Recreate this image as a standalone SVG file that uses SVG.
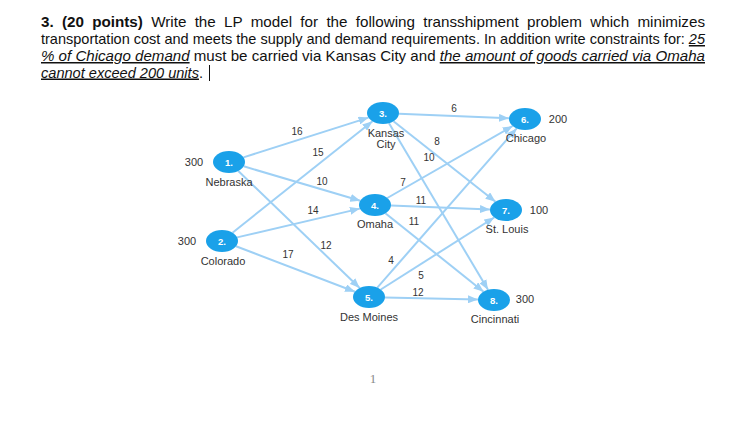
<svg xmlns="http://www.w3.org/2000/svg" width="745" height="438" viewBox="0 0 745 438">
<style>
.t{font-family:"Liberation Sans",Arial,sans-serif;font-size:15px;fill:#111}
.u{text-decoration:underline;font-style:italic}
.e{stroke:#9ed0f5;stroke-width:2;fill:none;marker-end:url(#ah)}
.n{fill:#1aa1e9}
.nl{font-family:"Liberation Sans",Arial,sans-serif;font-size:9.5px;font-weight:bold;fill:#fff;text-anchor:middle}
.lb{font-family:"Liberation Sans",Arial,sans-serif;font-size:11px;fill:#333;text-anchor:middle}
.w{font-family:"Liberation Sans",Arial,sans-serif;font-size:10px;fill:#333;text-anchor:middle}
</style>
<defs>
<marker id="ah" markerUnits="userSpaceOnUse" markerWidth="10" markerHeight="8" refX="10" refY="4" orient="auto">
<path d="M0,0 L10,4 L0,8 z" fill="#9ed0f5"/>
</marker>
</defs>
<rect width="745" height="438" fill="#fff"/>
<g id="title">
<text class="t" x="41" y="27" word-spacing="4" textLength="664" lengthAdjust="spacingAndGlyphs"><tspan font-weight="bold">3. (20 points)</tspan> Write the LP model for the following transshipment problem which minimizes</text>
<text class="t" x="41" y="44" textLength="664" lengthAdjust="spacingAndGlyphs">transportation cost and meets the supply and demand requirements. In addition write constraints for: <tspan class="u">25</tspan></text>
<text class="t" x="41" y="61" textLength="664" lengthAdjust="spacingAndGlyphs"><tspan class="u">% of Chicago demand</tspan> must be carried via Kansas City and <tspan class="u">the amount of goods carried via Omaha</tspan></text>
<text class="t" x="41" y="77.5" textLength="162" lengthAdjust="spacingAndGlyphs"><tspan class="u">cannot exceed 200 units</tspan>.</text>
<line x1="209.5" y1="65" x2="209.5" y2="81" stroke="#111" stroke-width="1"/>
</g>
<g id="connectors">
<line class="e" x1="243.5" y1="157.4" x2="368.5" y2="117.6"/>
<line class="e" x1="243.7" y1="166.3" x2="360.3" y2="200.7"/>
<line class="e" x1="238.3" y1="171" x2="359.7" y2="288"/>
<line class="e" x1="232.5" y1="232.7" x2="372.5" y2="121.3"/>
<line class="e" x1="237.1" y1="237.4" x2="359.9" y2="208.6"/>
<line class="e" x1="236" y1="246.3" x2="355" y2="291.7"/>
<line class="e" x1="399" y1="113.7" x2="509" y2="118.3"/>
<line class="e" x1="393.5" y1="121.3" x2="495.5" y2="201.7"/>
<line class="e" x1="389" y1="123.2" x2="488" y2="289.8"/>
<line class="e" x1="387.3" y1="198" x2="512.7" y2="126"/>
<line class="e" x1="391" y1="205.6" x2="490" y2="209.4"/>
<line class="e" x1="385.4" y1="213.3" x2="483.6" y2="291.7"/>
<line class="e" x1="377.3" y1="287.6" x2="516.7" y2="128.4"/>
<line class="e" x1="380.8" y1="289.5" x2="494.2" y2="217.5"/>
<line class="e" x1="385" y1="297.4" x2="478" y2="299.6"/>
<text class="w" x="297" y="135">16</text>
<text class="w" x="318" y="156">15</text>
<text class="w" x="322" y="185">10</text>
<text class="w" x="313" y="214">14</text>
<text class="w" x="326" y="249">12</text>
<text class="w" x="288" y="258">17</text>
<text class="w" x="454" y="112">6</text>
<text class="w" x="437" y="145">8</text>
<text class="w" x="429" y="161">10</text>
<text class="w" x="403" y="186">7</text>
<text class="w" x="421" y="204">11</text>
<text class="w" x="414" y="225">11</text>
<text class="w" x="391" y="264">4</text>
<text class="w" x="421" y="279">5</text>
<text class="w" x="418" y="296">12</text>
</g>
<g id="n1"><ellipse class="n" cx="229" cy="162" rx="16" ry="11"/><text class="nl" x="229" y="165.5">1.</text><text class="lb" x="194" y="166">300</text><text class="lb" x="229" y="186">Nebraska</text></g>
<g id="n2"><ellipse class="n" cx="222" cy="241" rx="16" ry="11"/><text class="nl" x="222" y="244.5">2.</text><text class="lb" x="187" y="245">300</text><text class="lb" x="223" y="265">Colorado</text></g>
<g id="n3"><ellipse class="n" cx="383" cy="113" rx="16" ry="11"/><text class="nl" x="383" y="116.5">3.</text><text class="lb" x="386" y="137">Kansas</text><text class="lb" x="386" y="148">City</text></g>
<g id="n4"><ellipse class="n" cx="375" cy="205" rx="16" ry="11"/><text class="nl" x="375" y="208.5">4.</text><text class="lb" x="375" y="228">Omaha</text></g>
<g id="n5"><ellipse class="n" cx="369" cy="297" rx="16" ry="11"/><text class="nl" x="369" y="300.5">5.</text><text class="lb" x="369" y="321">Des Moines</text></g>
<g id="n6"><ellipse class="n" cx="525" cy="119" rx="16" ry="11"/><text class="nl" x="525" y="122.5">6.</text><text class="lb" x="558" y="123">200</text><text class="lb" x="526" y="142">Chicago</text></g>
<g id="n7"><ellipse class="n" cx="506" cy="210" rx="16" ry="11"/><text class="nl" x="506" y="213.5">7.</text><text class="lb" x="539" y="214">100</text><text class="lb" x="507" y="233">St. Louis</text></g>
<g id="n8"><ellipse class="n" cx="494" cy="300" rx="16" ry="11"/><text class="nl" x="494" y="303.5">8.</text><text class="lb" x="525" y="303">300</text><text class="lb" x="495" y="323">Cincinnati</text></g>
<text x="373" y="383" font-family="Liberation Serif,serif" font-size="13" fill="#888" text-anchor="middle">1</text>
</svg>
